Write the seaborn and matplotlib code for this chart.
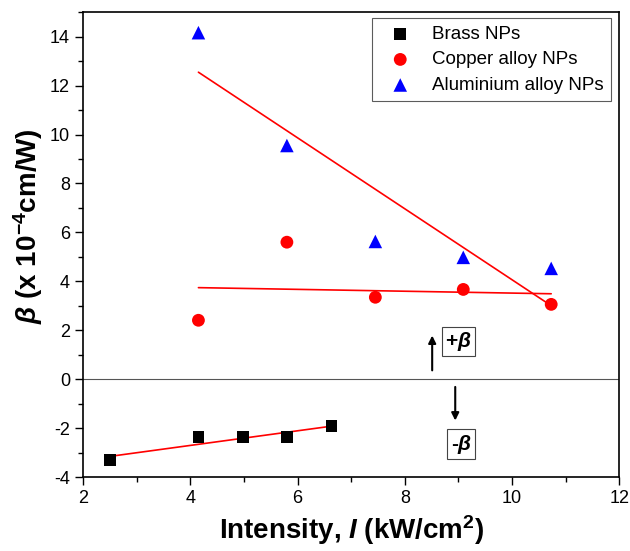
#Import libraries
import pandas as pd
import seaborn as sns
import matplotlib.pyplot as plt
from matplotlib.ticker import MultipleLocator

#Data
brass_x = [2.50, 4.15, 4.98, 5.80, 6.63]
brass_y = [-3.31, -2.35, -2.37, -2.37, -1.90]

copper_x = [4.15, 5.80, 7.45, 9.09, 10.73]
copper_y = [2.41, 5.60, 3.35, 3.67, 3.06]

alu_x = [4.15, 5.80, 7.45, 9.09, 10.73]
alu_y = [14.16, 9.55, 5.63, 4.98, 4.53]

x_ticks = [2, 4, 6, 8, 10, 12]
y_ticks = [-4, -2, 0, 2, 4, 6, 8, 10, 12, 14]

#Theme and fonts
sns.set_style('ticks')
plt.rcParams['font.family'] = ['Liberation Sans', 'DejaVu Sans']
plt.rcParams['mathtext.fontset'] = 'custom'
plt.rcParams['mathtext.rm'] = 'Liberation Sans'
plt.rcParams['mathtext.it'] = 'Liberation Sans:italic'
plt.rcParams['mathtext.bf'] = 'Liberation Sans:bold'
plt.rcParams['mathtext.bfit'] = 'Liberation Sans:bold:italic'
plt.rcParams['axes.unicode_minus'] = False
plt.rcParams['text.color'] = 'black'
plt.rcParams['axes.labelcolor'] = 'black'
plt.rcParams['xtick.color'] = 'black'
plt.rcParams['ytick.color'] = 'black'
plt.rcParams['axes.edgecolor'] = 'black'

fig = plt.figure(figsize=(6.3, 5.51), dpi=100)
ax = fig.add_axes([0.132, 0.134, 0.851, 0.844])

#Linear fits (red lines)
for xs, ys in [(brass_x, brass_y), (copper_x, copper_y), (alu_x, alu_y)]:
    sns.regplot(x=xs, y=ys, ax=ax, scatter=False, ci=None, truncate=True,
                line_kws={'color': 'red', 'lw': 1.2})

#Markers
sns.scatterplot(x=brass_x, y=brass_y, ax=ax, marker='s', color='black',
                s=70, edgecolor='none', label='Brass NPs', zorder=3)
sns.scatterplot(x=copper_x, y=copper_y, ax=ax, marker='o', color='red',
                s=85, edgecolor='none', label='Copper alloy NPs', zorder=3)
sns.scatterplot(x=alu_x, y=alu_y, ax=ax, marker='^', color='blue',
                s=95, edgecolor='none', label='Aluminium alloy NPs', zorder=3)

#Zero line
ax.axhline(0, color='#555555', lw=0.8, zorder=1)

#Arrows and +beta / -beta boxes
ax.annotate('', xy=(8.51, 1.9), xytext=(8.51, 0.25),
            arrowprops=dict(arrowstyle='-|>', color='black', lw=1.5, mutation_scale=11))
ax.annotate('', xy=(8.94, -1.8), xytext=(8.94, -0.2),
            arrowprops=dict(arrowstyle='-|>', color='black', lw=1.5, mutation_scale=11))
box = dict(boxstyle='square,pad=0.15', fc='white', ec='#444444', lw=0.8)
ax.text(9.0, 1.55, r'+$\mathbfit{\beta}$', fontsize=15, fontweight='bold',
        ha='center', va='center', bbox=box)
ax.text(9.05, -2.65, r'-$\mathbfit{\beta}$', fontsize=15, fontweight='bold',
        ha='center', va='center', bbox=box)

#Axes setup
ax.set_xlim(2, 12)
ax.set_ylim(-4, 15)
ax.set_xticks(x_ticks)
ax.set_yticks(y_ticks)
ax.xaxis.set_minor_locator(MultipleLocator(1))
ax.yaxis.set_minor_locator(MultipleLocator(1))
ax.tick_params(which='major', direction='out', length=6, width=1, labelsize=13,
               top=False, right=False)
ax.tick_params(which='minor', direction='out', length=3.5, width=1,
               top=False, right=False)
for sp in ax.spines.values():
    sp.set_linewidth(1.2)
    sp.set_visible(True)

ax.set_xlabel(r'Intensity, $\mathbfit{I}$ (kW/cm$^{\mathbf{2}}$)', fontsize=20,
              fontweight='bold', labelpad=4)
ax.set_ylabel(r'$\mathbfit{\beta}$ (x 10$^{\mathbf{-4}}$cm/W)', fontsize=20,
              fontweight='bold')
ax.yaxis.set_label_coords(-0.072, 0.54)

#Legend
leg = ax.legend(loc='upper right', fontsize=13.5, frameon=True, fancybox=False,
                borderpad=0.4, handletextpad=0.6, handlelength=2.2, labelspacing=0.45,
                borderaxespad=0, bbox_to_anchor=(0.985, 0.987))
leg.get_frame().set_edgecolor('#333333')
leg.get_frame().set_linewidth(0.8)

plt.savefig('out.png', dpi=100)
